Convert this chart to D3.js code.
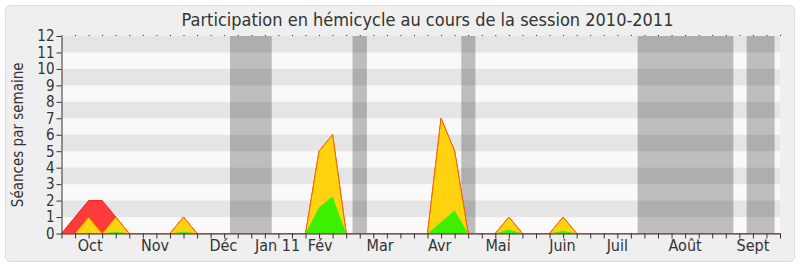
<!DOCTYPE html>
<html>
<head>
<meta charset="utf-8">
<script src="https://cdn.jsdelivr.net/npm/d3@7"></script>
<style>
  body { margin: 0; background: #fff; }
  text { font-family: "DejaVu Sans Condensed", "DejaVu Sans", sans-serif; fill: #333; }
</style>
</head>
<body>
<script>
// semaines de la session (0 = fin septembre 2010)
const weeks = d3.range(0, 54);
// séances en hémicycle (rouge)
const seances = [0,1,2,2,1,0,0,0,0,1,0,0,0,0,0,0,0,0,0,5,6,0,0,0,0,0,0,0,7,5,0,0,0,1,0,0,0,1,0,0,0,0,0,0,0,0,0,0,0,0,0,0,0,0];
// présences (jaune)
const presences = [0,0,1,0,1,0,0,0,0,1,0,0,0,0,0,0,0,0,0,5,6,0,0,0,0,0,0,0,7,5,0,0,0,1,0,0,0,1,0,0,0,0,0,0,0,0,0,0,0,0,0,0,0,0];
// interventions (vert)
const interventions = [0,0,0.05,0,0.1,0,0,0,0,0.1,0,0,0,0,0,0,0,0,0,1.6,2.25,0,0,0,0,0,0,0,0.7,1.4,0,0,0,0.25,0,0,0,0.15,0,0,0,0,0,0,0,0,0,0,0,0,0,0,0,0];
// vacances parlementaires (en semaines)
const vacances = [[12.43, 15.51], [21.47, 22.53], [29.49, 30.53], [42.5, 49.56], [50.54, 52.6]];
const monthLabels = ["Oct", "Nov", "Déc", "Jan 11", "Fév", "Mar", "Avr", "Mai", "Juin", "Juil", "Août", "Sept"];
const monthPos = [2.12, 6.9, 11.94, 15.94, 19.08, 23.5, 27.9, 32.2, 36.95, 41.0, 46.0, 51.0];
const yTicks = d3.range(0, 13);

const W = 800, H = 267;
const margin = { top: 36, right: 20, bottom: 33.5, left: 61.5 };

const svg = d3.select("body").append("svg")
    .attr("width", W)
    .attr("height", H);

// cadre
svg.append("rect")
    .attr("x", 5.5).attr("y", 5.5)
    .attr("width", W - 11).attr("height", H - 11)
    .attr("rx", 5)
    .attr("fill", "#efefef")
    .attr("stroke", "#dcdcdc");

const x = d3.scaleLinear().domain([0, 53]).range([margin.left, W - margin.right]);
const y = d3.scaleLinear().domain([0, 12]).range([H - margin.bottom, margin.top]);

// fond rayé
svg.append("rect")
    .attr("x", x(0)).attr("y", y(12))
    .attr("width", x(53) - x(0)).attr("height", y(0) - y(12))
    .attr("fill", "#f9f9f9");
svg.append("g").selectAll("rect")
    .data(yTicks.filter(d => d % 2 === 1))
    .join("rect")
    .attr("x", x(0))
    .attr("y", d => y(d + 1))
    .attr("width", x(53) - x(0))
    .attr("height", d => y(d) - y(d + 1))
    .attr("fill", "#e5e5e5");

// vacances
svg.append("g").selectAll("rect")
    .data(vacances)
    .join("rect")
    .attr("x", d => x(d[0]))
    .attr("y", y(12))
    .attr("width", d => x(d[1]) - x(d[0]))
    .attr("height", y(0) - y(12))
    .attr("fill", "rgba(0,0,0,0.24)");

const area = vals => d3.area()
    .x(i => x(i))
    .y0(y(0))
    .y1(i => y(vals[i]))(weeks);

svg.append("path")
    .attr("d", area(seances))
    .attr("fill", "#ff3c3c")
    .attr("stroke", "#ff1a1a")
    .attr("stroke-width", 1);
svg.append("path")
    .attr("d", area(presences))
    .attr("fill", "#ffd30f")
    .attr("stroke", "#ff6a00")
    .attr("stroke-width", 1);
svg.append("path")
    .attr("d", area(interventions))
    .attr("fill", "#3cf000");

// axes
const xAxis = svg.append("g")
    .attr("transform", `translate(0, ${y(0)})`)
    .call(d3.axisBottom(x).tickValues(weeks).tickSize(5).tickFormat("").tickSizeOuter(0));
xAxis.select(".domain").attr("stroke", "#5a2a20");
xAxis.selectAll(".tick line").attr("stroke", "#333");

const topAxis = svg.append("g")
    .attr("transform", `translate(0, ${y(12)})`)
    .call(d3.axisTop(x).tickValues(weeks).tickSize(1).tickFormat("").tickSizeOuter(0));
topAxis.select(".domain").remove();
topAxis.selectAll(".tick line").attr("stroke", "#222");

const yAxis = svg.append("g")
    .attr("transform", `translate(${x(0)}, 0)`)
    .call(d3.axisLeft(y).tickValues(yTicks).tickSize(5).tickSizeOuter(0).tickPadding(2));
yAxis.select(".domain").attr("stroke", "#333");
yAxis.selectAll(".tick line").attr("stroke", "#333");
yAxis.selectAll(".tick text")
    .attr("font-size", 15)
    .attr("font-family", null)
    .attr("fill", "#333");

svg.append("g").selectAll("text")
    .data(monthLabels)
    .join("text")
    .attr("x", (d, i) => x(monthPos[i]))
    .attr("y", 251)
    .attr("text-anchor", "middle")
    .attr("font-size", 16)
    .text(d => d);

svg.append("text")
    .attr("x", 427.5)
    .attr("y", 26)
    .attr("text-anchor", "middle")
    .attr("font-size", 18)
    .text("Participation en hémicycle au cours de la session 2010-2011");

svg.append("text")
    .attr("transform", `translate(23, ${(y(0) + y(12)) / 2}) rotate(-90)`)
    .attr("text-anchor", "middle")
    .attr("font-size", 15)
    .text("Séances par semaine");
</script>
</body>
</html>
